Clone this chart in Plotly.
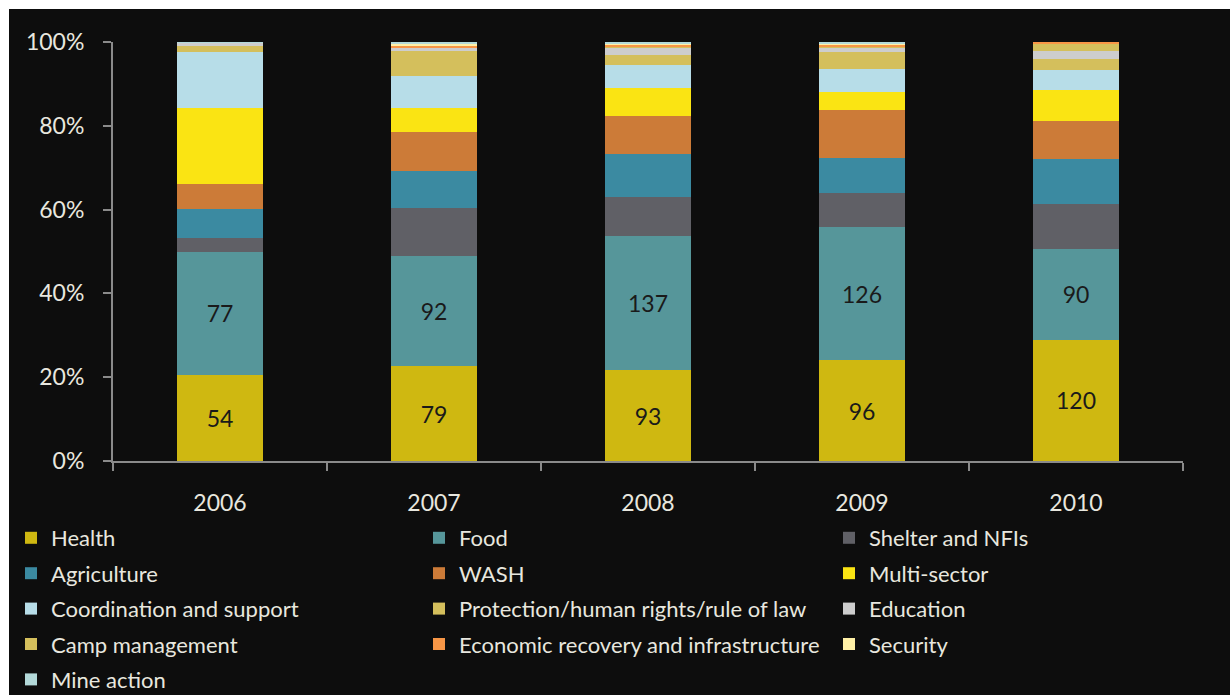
import plotly.graph_objects as go

# Humanitarian funding by sector, US$ million
years = ["2006", "2007", "2008", "2009", "2010"]

sectors = [
    "Health", "Food", "Shelter and NFIs", "Agriculture", "WASH", "Multi-sector",
    "Coordination and support", "Protection/human rights/rule of law", "Education",
    "Camp management", "Economic recovery and infrastructure", "Security", "Mine action",
]

health = [54, 79, 93, 96, 120]
food = [77, 92, 137, 126, 90]
shelter = [8.7, 40.7, 40.9, 32.4, 45.0]
agriculture = [18.0, 30.3, 44.0, 34.0, 43.7]
wash = [15.4, 33.2, 38.5, 45.4, 38.0]
multi_sector = [47.8, 19.8, 28.5, 17.1, 30.5]
coordination = [35.1, 26.7, 24.0, 21.6, 20.1]
protection = [4.0, 20.6, 10.3, 16.5, 10.6]
education = [1.7, 3.3, 6.9, 4.5, 8.6]
camp_management = [0.0, 0.0, 0.5, 0.8, 7.3]
economic_recovery = [0.0, 1.0, 2.2, 1.2, 1.2]
security = [0.0, 2.0, 2.2, 1.6, 0.0]
mine_action = [0.5, 1.4, 1.2, 1.2, 0.0]

series = [health, food, shelter, agriculture, wash, multi_sector, coordination,
          protection, education, camp_management, economic_recovery, security, mine_action]

colors = ["#cfb811", "#56969a", "#606066", "#3b8aa1", "#cc7b38", "#fae413",
          "#b7dde8", "#d4bf5c", "#cdcdcd", "#d4bf5c", "#f79646", "#fff0a6", "#b3d9d9"]

pct_ticks = [0, 20, 40, 60, 80, 100]
pct_labels = ["0%", "20%", "40%", "60%", "80%", "100%"]

# legend column each sector goes into (three columns, filled row by row)
legend_ids = ["legend", "legend2", "legend3"]
labelled = {"Health", "Food"}

BG = "#0d0d0d"
TEXT = "#e8e7df"
AXIS = "#8a8a8a"
FONT = "Lato"

fig = go.Figure()
for i, (name, vals, col) in enumerate(zip(sectors, series, colors)):
    kw = {}
    if name in labelled:
        kw = dict(
            text=[f"{v:g}" for v in vals],
            texttemplate="%{text}",
            textposition="inside",
            insidetextanchor="middle",
            textangle=0,
            textfont=dict(family=FONT, size=23, color="#1a1a1a"),
            constraintext="none",
        )
    fig.add_trace(go.Bar(
        x=years, y=vals, name=name,
        marker=dict(color=col, line=dict(width=0)),
        legend=legend_ids[i % 3],
        legendgroup=name,
        **kw,
    ))

# plot area geometry in pixels
W, H = 1230, 695
ML, MR, MT, MB = 113, 47, 42, 234
PW, PH = W - ML - MR, H - MT - MB


def px_x(px):
    return (px - ML) / PW


def px_y(py):
    return (H - MB - py) / PH


legend_common = dict(
    orientation="v", yanchor="top", xanchor="left",
    bgcolor="rgba(0,0,0,0)", borderwidth=0,
    font=dict(family=FONT, size=22, color=TEXT),
    tracegroupgap=3.8, traceorder="grouped",
)
legend_top = px_y(517)

fig.update_layout(
    width=W, height=H,
    margin=dict(l=ML, r=MR, t=MT, b=MB, pad=0, autoexpand=False),
    paper_bgcolor=BG, plot_bgcolor=BG,
    barmode="stack", barnorm="percent", bargap=0.6,
    showlegend=True,
    legend=dict(x=px_x(11), y=legend_top, **legend_common),
    legend2=dict(x=px_x(419), y=legend_top, **legend_common),
    legend3=dict(x=px_x(829), y=legend_top, **legend_common),
    xaxis=dict(
        type="category",
        showline=True, linecolor=AXIS, linewidth=2,
        ticks="outside", tickson="boundaries", ticklen=8, tickwidth=2, tickcolor=AXIS,
        tickfont=dict(family=FONT, size=23, color=TEXT),
        ticklabelstandoff=20,
        showgrid=False, zeroline=False,
    ),
    yaxis=dict(
        range=[0, 100], tickmode="array", tickvals=pct_ticks, ticktext=pct_labels,
        showline=True, linecolor=AXIS, linewidth=2,
        ticks="outside", ticklen=8, tickwidth=2, tickcolor=AXIS,
        tickfont=dict(family=FONT, size=23, color=TEXT),
        ticklabelstandoff=14,
        showgrid=False, zeroline=False,
    ),
    shapes=[
        dict(type="rect", xref="paper", yref="paper", layer="below",
             x0=px_x(0), x1=px_x(9), y0=px_y(H), y1=px_y(0),
             fillcolor="white", line=dict(width=0)),
        dict(type="rect", xref="paper", yref="paper", layer="below",
             x0=px_x(0), x1=px_x(W), y0=px_y(9), y1=px_y(0),
             fillcolor="white", line=dict(width=0)),
    ],
)

fig.write_html("out.html")
